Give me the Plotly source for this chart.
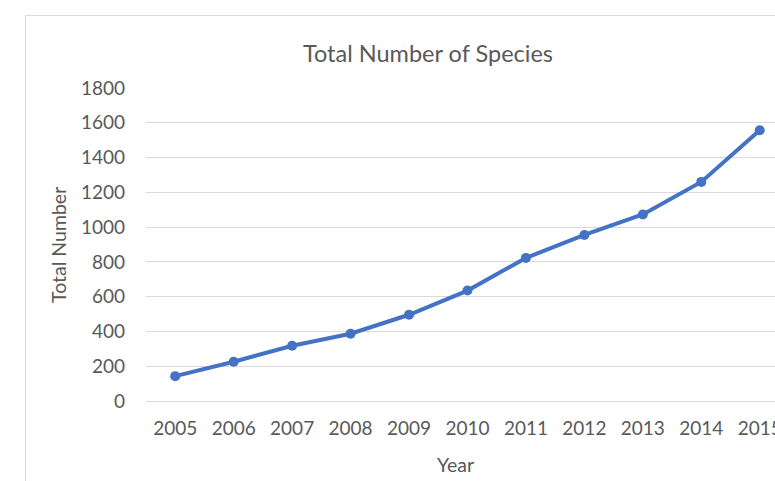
import plotly.graph_objects as go

# Species totals by year
years = ["2005", "2006", "2007", "2008", "2009", "2010",
         "2011", "2012", "2013", "2014", "2015"]
total_species = [143, 226, 318, 387, 496, 635, 823, 955, 1073, 1260, 1557]
y_ticks = [0, 200, 400, 600, 800, 1000, 1200, 1400, 1600, 1800]

W, H = 775, 481
L, R, T, B = 146, 0, 88, 80
pw, ph = W - L - R, H - T - B

def px(x):
    return (x - L) / pw

def py(y):
    return (H - B - y) / ph

grey = "#595959"
font_family = "Lato, 'Open Sans', sans-serif"

fig = go.Figure()
fig.add_trace(go.Scatter(
    x=list(range(len(years))),
    y=total_species,
    mode="lines+markers",
    line=dict(color="#4472C4", width=4),
    marker=dict(color="#4472C4", size=10),
    cliponaxis=False,
    hoverinfo="x+y",
))

slot = 58.45  # pixel width of one category slot
fig.update_layout(
    width=W, height=H,
    margin=dict(l=L, r=R, t=T, b=B, pad=0, autoexpand=False),
    paper_bgcolor="white",
    plot_bgcolor="white",
    showlegend=False,
    font=dict(family=font_family, color=grey, size=19),
    xaxis=dict(
        range=[-0.5, -0.5 + pw / slot],
        tickmode="array",
        tickvals=list(range(len(years))),
        ticktext=years,
        showgrid=False,
        zeroline=False,
        showline=False,
        ticks="",
        ticklabelstandoff=14,
        ticklabeloverflow="allow",
        automargin=False,
        tickfont=dict(size=19, color=grey),
    ),
    yaxis=dict(
        range=[0, 1800],
        tickmode="array",
        tickvals=y_ticks,
        ticktext=[str(v) for v in y_ticks],
        showgrid=True,
        gridcolor="#d9d9d9",
        gridwidth=1,
        zeroline=True,
        zerolinecolor="#d9d9d9",
        zerolinewidth=1,
        showline=False,
        ticks="",
        ticklabelstandoff=20,
        automargin=False,
        tickfont=dict(size=19, color=grey),
    ),
    shapes=[dict(
        type="rect", xref="paper", yref="paper",
        x0=px(25.5), x1=px(W + 20), y0=py(H + 20), y1=py(15.5),
        line=dict(color="#d9d9d9", width=1),
        fillcolor="rgba(0,0,0,0)", layer="below",
    )],
    annotations=[
        dict(text="Total Number of Species", xref="paper", yref="paper",
             x=px(428), y=py(53), showarrow=False,
             xanchor="center", yanchor="middle",
             font=dict(size=23.5, color=grey, family=font_family)),
        dict(text="Total Number", xref="paper", yref="paper",
             x=px(58), y=py(245), showarrow=False, textangle=-90,
             xanchor="center", yanchor="middle",
             font=dict(size=19.5, color=grey, family=font_family)),
        dict(text="Year", xref="paper", yref="paper",
             x=px(455), y=py(464), showarrow=False,
             xanchor="center", yanchor="middle",
             font=dict(size=19.5, color=grey, family=font_family)),
    ],
)

fig.write_html("out.html", config=dict(displayModeBar=False))
